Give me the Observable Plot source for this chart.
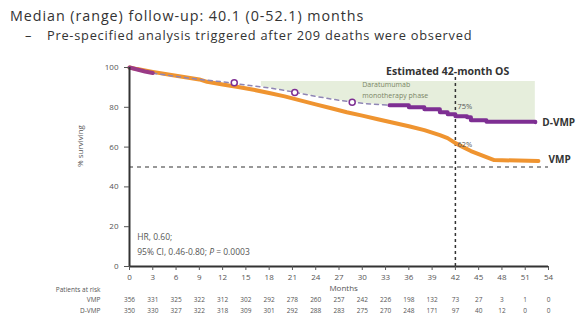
<!DOCTYPE html>
<html>
<head>
<meta charset="utf-8">
<script src="https://cdn.jsdelivr.net/npm/d3@7"></script>
<script src="https://cdn.jsdelivr.net/npm/@observablehq/plot@0.6"></script>
<style>
  body { margin: 0; background: #fff; font-family: "Open Sans", sans-serif; }
  #head { position: relative; width: 579px; height: 50px; color: #333; }
  #head .l1 { position: absolute; left: 10px; top: 8px; font-size: 14.3px; line-height: 16px; letter-spacing: 0.95px; white-space: nowrap; }
  #head .l2 { position: absolute; left: 25px; top: 28px; font-size: 12.8px; line-height: 14px; letter-spacing: 0.75px; white-space: nowrap; }
  #head .l2 span { display: inline-block; width: 22px; }
</style>
</head>
<body>
<div id="head">
  <div class="l1">Median (range) follow-up: 40.1 (0-52.1) months</div>
  <div class="l2"><span>–</span>Pre-specified analysis triggered after 209 deaths were observed</div>
</div>
<div id="chart"></div>
<script>
// Kaplan–Meier overall survival, months vs % surviving
const vmpMonths = [0, 1, 2, 3, 5, 7, 9, 10, 12, 14, 16, 18, 20, 22, 24, 26, 28, 30, 32, 34, 36, 38, 40, 41, 42, 43, 44, 45, 46, 47, 52.7];
const vmpSurv   = [100, 99.2, 98.5, 97.8, 96.5, 95.2, 94, 92.8, 91.5, 90.2, 88.8, 87.2, 85.5, 83.5, 81.5, 79.5, 77.5, 75.8, 74, 72.2, 70.5, 68.5, 66, 64.5, 62, 60, 58, 56.5, 55, 53.5, 53];

// D-VMP: first months drawn solid, combination phase dashed, monotherapy phase solid
const dvmpEarlyMonths = [0, 1, 2, 3];
const dvmpEarlySurv   = [100, 99, 98, 97.2];
const dvmpDashMonths  = [3, 6, 9, 12, 15, 18, 21, 24, 27, 30, 33.5];
const dvmpDashSurv    = [97.2, 95.5, 94, 92.8, 91.2, 89.8, 87.8, 85.5, 83.5, 82, 81];
const dvmpLateMonths  = [33.5, 36, 38, 40, 41, 42, 43.5, 44, 46, 52.3];
const dvmpLateSurv    = [81, 80, 79, 77.5, 76.5, 75.5, 75, 73.5, 72.8, 72.5];

// censored observations marked on the dashed segment
const censorMonths = [13.5, 21.3, 28.7];
const censorSurv   = [92.3, 87.5, 82.5];

// shaded monotherapy phase: from the D-VMP curve up to its upper bound
const phaseMonths = [17, 18, 21, 24, 27, 30, 33.5, 36, 38, 40, 41, 42, 43.5, 44, 46, 52.3];
const phaseLower  = [90.3, 89.8, 87.8, 85.5, 83.5, 82, 81, 80, 79, 77.5, 76.5, 75.5, 75, 73.5, 72.8, 72.5];
const phaseUpper  = 93;

// patients at risk
const riskMonths = [0, 3, 6, 9, 12, 15, 18, 21, 24, 27, 30, 33, 36, 39, 42, 45, 48, 51, 54];
const riskVMP    = [356, 331, 325, 322, 312, 302, 292, 278, 260, 257, 242, 226, 198, 132, 73, 27, 3, 1, 0];
const riskDVMP   = [350, 330, 327, 322, 318, 309, 301, 292, 288, 283, 275, 270, 248, 171, 97, 40, 12, 0, 0];

const yTicks = [0, 20, 40, 60, 80, 100];

const pts = (xs, ys) => xs.map((x, i) => ({x, y: ys[i]}));
const vmp = pts(vmpMonths, vmpSurv);
const dEarly = pts(dvmpEarlyMonths, dvmpEarlySurv);
const dDash = pts(dvmpDashMonths, dvmpDashSurv);
const dLate = pts(dvmpLateMonths, dvmpLateSurv);
const censor = pts(censorMonths, censorSurv);
const phase = phaseMonths.map((x, i) => ({x, lo: phaseLower[i], hi: phaseUpper}));
const riskV = riskMonths.map((x, i) => ({x, n: riskVMP[i]}));
const riskD = riskMonths.map((x, i) => ({x, n: riskDVMP[i]}));

const orange = "#ef9430";
const purple = "#7e2f93";
const grey = "#555";

const chart = Plot.plot({
  width: 579,
  height: 272,
  marginLeft: 129,
  marginRight: 31,
  marginTop: 17,
  marginBottom: 56,
  style: {fontFamily: "Open Sans, sans-serif", background: "#fff", overflow: "visible"},
  x: {domain: [0, 54]},
  y: {domain: [0, 100]},
  marks: [
    Plot.areaY(phase, {x: "x", y1: "lo", y2: "hi", fill: "#e6eedc"}),
    Plot.ruleY([50], {stroke: "#777", strokeWidth: 1.3, strokeDasharray: "4,4"}),
    Plot.ruleX([42], {y1: 95, y2: -1.5, stroke: "#333", strokeWidth: 1.5, strokeDasharray: "3,3"}),
    Plot.line(vmp, {x: "x", y: "y", stroke: orange, strokeWidth: 4, strokeLinejoin: "round"}),
    Plot.line(dDash, {x: "x", y: "y", stroke: "#8f86b4", strokeWidth: 1.5, strokeDasharray: "4,4"}),
    Plot.line(dEarly, {x: "x", y: "y", stroke: "#9a3a86", strokeWidth: 4}),
    Plot.line(dLate, {x: "x", y: "y", stroke: purple, strokeWidth: 4, curve: "step-after"}),
    Plot.dot(censor, {x: "x", y: "y", r: 3, stroke: purple, strokeWidth: 1.5, fill: "#fff"}),
    Plot.ruleX([0], {stroke: "#333", strokeWidth: 2}),
    Plot.ruleY([0], {stroke: "#333", strokeWidth: 2}),
    Plot.axisY({ticks: yTicks, tickSize: 5, tickPadding: 6, fontSize: 8, color: grey, label: null}),
    Plot.axisX({ticks: riskMonths, tickSize: 4, tickPadding: 4, fontSize: 8, color: grey, label: null}),
    Plot.text(["% surviving"], {frameAnchor: "left", dx: -49, rotate: -90, fontSize: 8, fill: grey}),
    Plot.text(["Months"], {x: 27.6, y: 0, dy: 21.5, fontSize: 8, fill: grey}),
    // annotations
    Plot.text(["Estimated 42-month OS"], {x: 41, y: 98, fontSize: 10.5, fontWeight: "bold", fill: "#333"}),
    Plot.text(["Daratumumab", "monotherapy phase"], {x: 30, y: [91.5, 86], textAnchor: "start", fontSize: 7, fill: "#7a8566"}),
    Plot.text(["75%"], {x: 42, y: 80.4, dx: 2, textAnchor: "start", fontSize: 7.5, fill: grey}),
    Plot.text(["62%"], {x: 42, y: 61.3, dx: 2, textAnchor: "start", fontSize: 7.5, fill: grey}),
    Plot.text(["D-VMP"], {x: 53.2, y: 72.4, textAnchor: "start", fontSize: 10, fontWeight: "bold", fill: "#333"}),
    Plot.text(["VMP"], {x: 54, y: 53.8, textAnchor: "start", fontSize: 10, fontWeight: "bold", fill: "#333"}),
    Plot.text(["HR, 0.60;"], {x: 1, y: 14.6, textAnchor: "start", fontSize: 8.5, fill: grey}),
    Plot.text(["95% CI, 0.46-0.80; P = 0.0003"], {x: 1, y: 7, textAnchor: "start", fontSize: 8.5, fill: grey}),
    // patients at risk table
    Plot.text(["Patients at risk"], {x: 0, y: 0, dx: -29, dy: 23, textAnchor: "end", fontSize: 6.5, fill: grey}),
    Plot.text(["VMP"], {x: 0, y: 0, dx: -29, dy: 33, textAnchor: "end", fontSize: 6.5, fill: grey}),
    Plot.text(["D-VMP"], {x: 0, y: 0, dx: -29, dy: 44, textAnchor: "end", fontSize: 6.5, fill: grey}),
    Plot.text(riskV, {x: "x", y: 0, dy: 33, text: "n", fontSize: 6.5, fill: grey}),
    Plot.text(riskD, {x: "x", y: 0, dy: 44, text: "n", fontSize: 6.5, fill: grey})
  ]
});
// italicise the P in the confidence-interval line
d3.select(chart).selectAll("text").each(function() {
  const t = d3.select(this);
  if (t.text() === "95% CI, 0.46-0.80; P = 0.0003") {
    t.text(null);
    t.append("tspan").text("95% CI, 0.46-0.80; ");
    t.append("tspan").attr("font-style", "italic").text("P");
    t.append("tspan").text(" = 0.0003");
  }
});
document.getElementById("chart").append(chart);
</script>
</body>
</html>
